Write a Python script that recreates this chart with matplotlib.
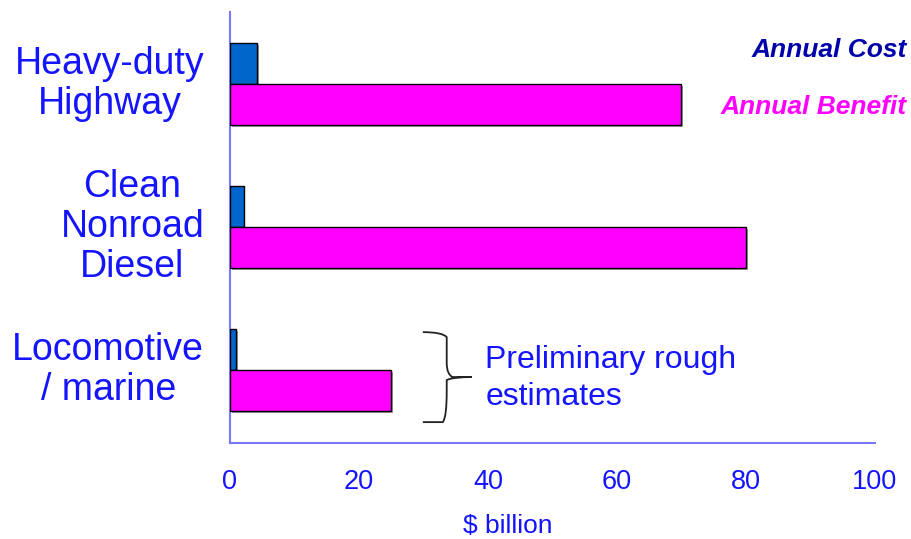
import matplotlib
matplotlib.use("Agg")
import matplotlib.pyplot as plt
import matplotlib.patheffects as pe
from matplotlib.path import Path
from matplotlib.patches import PathPatch
import numpy as np

plt.rcParams["font.family"] = ["Liberation Sans", "DejaVu Sans"]

categories = ["Heavy-duty\nHighway", "Clean\nNonroad\nDiesel", "Locomotive\n/ marine"]
annual_cost = [4.2, 2.1, 1.0]
annual_benefit = [70, 80, 25]
x_ticks = [0, 20, 40, 60, 80, 100]

label_blue = "#1414ff"
cost_color = "#0066cc"
benefit_color = "#ff00ff"

fig = plt.figure(figsize=(9.12, 5.39), dpi=100)
ax = fig.add_axes([230 / 912, 1 - 443 / 539, 645 / 912, 431 / 539])

pos = np.arange(len(categories))
h = 0.287
shadow = [pe.SimplePatchShadow(offset=(1.2, -1.2), shadow_rgbFace="#888888", alpha=0.8), pe.Normal()]
ax.barh(pos - h / 2, annual_cost, height=h, color=cost_color, edgecolor="black",
        linewidth=1, path_effects=shadow, zorder=3)
ax.barh(pos + h / 2, annual_benefit, height=h, color=benefit_color, edgecolor="black",
        linewidth=1, path_effects=shadow, zorder=3)

ax.set_xlim(0, 100)
ax.set_ylim(2.51, -0.503)

for s in ["top", "right"]:
    ax.spines[s].set_visible(False)
for s in ["left", "bottom"]:
    ax.spines[s].set_color("#7878ff")
    ax.spines[s].set_linewidth(1.5)

ax.set_yticks([])
ax.set_xticks(x_ticks)
ax.set_xticklabels([str(t) for t in x_ticks], fontsize=19.5, color=label_blue)
ax.tick_params(axis="x", length=0, pad=19)
fig.text(508 / 912, 1 - 526 / 539, "$ billion", ha="center", va="center",
         fontsize=19, color=label_blue)

for p, c in zip(pos, categories):
    ax.text(-4.0, p, c, ha="right", va="center", multialignment="center",
            fontsize=27, color=label_blue, linespacing=1.13)

# curly brace next to the locomotive bars
verts = [(29.9, 1.735),
         (33.0, 1.735), (33.6, 1.77),
         (33.6, 1.95),
         (33.6, 2.03), (34.5, 2.049),
         (37.5, 2.049),
         (34.5, 2.049), (33.6, 2.07),
         (33.6, 2.15),
         (33.6, 2.33), (33.0, 2.364),
         (29.9, 2.364)]
codes = [Path.MOVETO,
         Path.CURVE3, Path.CURVE3,
         Path.LINETO,
         Path.CURVE3, Path.CURVE3,
         Path.LINETO,
         Path.CURVE3, Path.CURVE3,
         Path.LINETO,
         Path.CURVE3, Path.CURVE3,
         Path.LINETO]
ax.add_patch(PathPatch(Path(verts, codes), facecolor="none", edgecolor="#222222",
                       linewidth=1.3, clip_on=False))
ax.text(39.6, 2.06, "Preliminary rough\nestimates", ha="left", va="center",
        fontsize=23, color=label_blue, linespacing=1.33)

fig.text(907 / 912, 1 - 50 / 539, "Annual Cost", ha="right", va="center",
         fontsize=19, fontweight="bold", fontstyle="italic", color="#0000aa")
fig.text(907 / 912, 1 - 107 / 539, "Annual Benefit", ha="right", va="center",
         fontsize=19, fontweight="bold", fontstyle="italic", color=benefit_color)

fig.savefig("out.png", dpi=100)
